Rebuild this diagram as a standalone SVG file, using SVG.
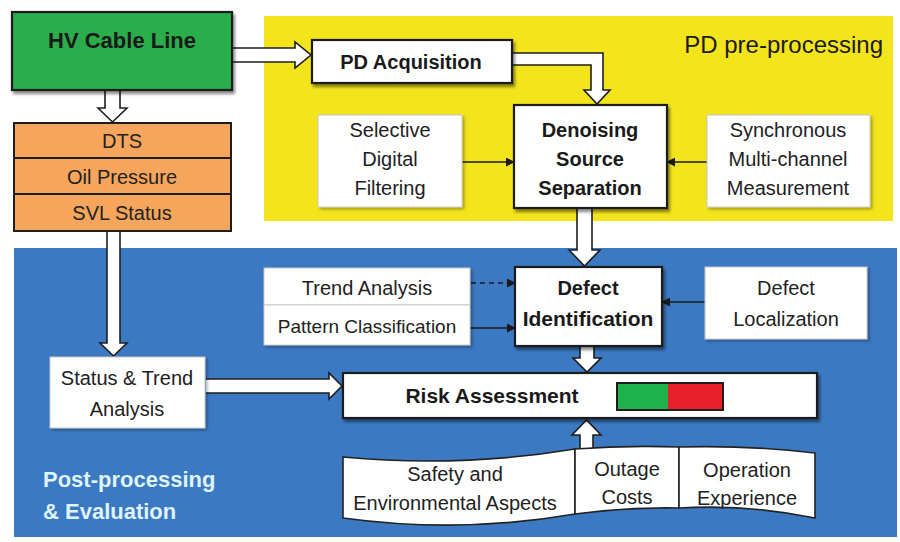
<svg xmlns="http://www.w3.org/2000/svg" width="900" height="542" viewBox="0 0 900 542">
  <defs>
    <filter id="shadow" x="-10%" y="-10%" width="130%" height="140%">
      <feDropShadow dx="2" dy="3" stdDeviation="1.5" flood-color="#000" flood-opacity="0.45"/>
    </filter>
    <filter id="softShadow" x="-10%" y="-10%" width="130%" height="140%">
      <feDropShadow dx="2" dy="2" stdDeviation="1.5" flood-color="#000" flood-opacity="0.3"/>
    </filter>
    <marker id="tri" viewBox="0 0 10 10" refX="9" refY="5" markerWidth="9" markerHeight="9" markerUnits="userSpaceOnUse" orient="auto">
      <path d="M0,0 L10,5 L0,10 Z" fill="#1a1a1a"/>
    </marker>
    <style>
      text { font-family: "Liberation Sans", Arial, sans-serif; fill: #222; text-anchor: middle; }
      .b { font-weight: bold; fill: #1a1a1a; }
      .n { font-size: 20px; }
      .bold20 { font-size: 20px; font-weight: bold; fill: #1a1a1a; }
      .box { fill: #fff; stroke: #1e1e1e; stroke-width: 2.2; filter: url(#shadow); }
      .lite { fill: #fff; stroke: #c8c8c8; stroke-width: 1; filter: url(#softShadow); }
      .hollow { fill: #fff; stroke: #1e1e1e; stroke-width: 1.6; stroke-linejoin: miter; }
      .thin { fill: none; stroke: #1a1a1a; stroke-width: 1.6; marker-end: url(#tri); }
      .wave { fill: #fff; stroke: #222; stroke-width: 1.6; }
    </style>
  </defs>

  <!-- background panels -->
  <rect x="0" y="0" width="900" height="542" fill="#fff"/>
  <g id="pd-preprocessing-panel">
    <rect x="264" y="16" width="629" height="205" fill="#f3e41c"/>
    <text x="883" y="53" style="font-size:24px;text-anchor:end;fill:#1a1a1a">PD pre-processing</text>
  </g>
  <g id="post-processing-panel">
    <rect x="14" y="248" width="883" height="289" fill="#3c79c3"/>
    <text x="43" y="487" style="font-size:22px;font-weight:bold;text-anchor:start;fill:#dff4fb">Post-processing</text>
    <text x="43" y="519" style="font-size:22px;font-weight:bold;text-anchor:start;fill:#dff4fb">&amp; Evaluation</text>
  </g>

  <!-- connectors -->
  <g id="connectors">
    <!-- hollow block arrows -->
    <path class="hollow" d="M105,90 V108 H98 L112.5,122 L127,108 H120 V90"/>
    <path class="hollow" d="M233,48 H295 V42 L311,55 L295,68 V62 H233"/>
    <path class="hollow" d="M513,53 H603 V90 H610 L597,104 L584,90 H591 V65 H513"/>
    <path class="hollow" d="M577,209 V250 H569 L584.5,266 L600,250 H592 V209"/>
    <path class="hollow" d="M580,347 V358 H573 L587,372 L601,358 H594 V347"/>
    <path class="hollow" d="M107,232 V343 H100 L113.5,356 L127,343 H120 V232"/>
    <path class="hollow" d="M206,379 H329 V373 L342,386 L329,399 V393 H206"/>
    <path class="hollow" d="M580,449 V435 H572 L586.5,420 L601,435 H593 V449"/>
    <!-- thin arrows -->
    <line class="thin" x1="462" y1="162" x2="514" y2="162"/>
    <line class="thin" x1="707" y1="162" x2="667" y2="162"/>
    <line class="thin" x1="471" y1="283" x2="515" y2="283" stroke-dasharray="5,4"/>
    <line class="thin" x1="470" y1="328" x2="515" y2="328"/>
    <line class="thin" x1="705" y1="302" x2="662" y2="302"/>
  </g>

  <!-- nodes -->
  <g id="hv-cable-line">
    <rect x="12" y="12" width="220" height="78" fill="#2aae4b" stroke="#1e1e1e" stroke-width="2.2" filter="url(#shadow)"/>
    <text x="122" y="48" class="b" style="font-size:22px">HV Cable Line</text>
  </g>

  <g id="sensors">
    <rect x="14" y="123" width="217" height="35" fill="#f6a55c" stroke="#1e1e1e" stroke-width="2"/>
    <rect x="14" y="158" width="217" height="36" fill="#f6a55c" stroke="#1e1e1e" stroke-width="2"/>
    <rect x="14" y="194" width="217" height="37" fill="#f6a55c" stroke="#1e1e1e" stroke-width="2"/>
    <text x="122" y="148" class="n">DTS</text>
    <text x="122" y="184" class="n">Oil Pressure</text>
    <text x="122" y="220" class="n">SVL Status</text>
  </g>

  <g id="pd-acquisition">
    <rect class="box" x="312" y="40" width="200" height="43"/>
    <text x="411" y="69" class="bold20">PD Acquisition</text>
  </g>

  <g id="denoising">
    <rect class="box" x="514" y="105" width="153" height="103"/>
    <text x="590" y="137" class="bold20">Denoising</text>
    <text x="590" y="166" class="bold20">Source</text>
    <text x="590" y="195" class="bold20">Separation</text>
  </g>

  <g id="selective-filtering">
    <rect class="lite" x="318" y="115" width="144" height="92"/>
    <text x="390" y="137" class="n">Selective</text>
    <text x="390" y="166" class="n">Digital</text>
    <text x="390" y="195" class="n">Filtering</text>
  </g>

  <g id="synchronous-measurement">
    <rect class="lite" x="707" y="115" width="163" height="92"/>
    <text x="788" y="137" class="n">Synchronous</text>
    <text x="788" y="166" class="n">Multi-channel</text>
    <text x="788" y="195" class="n">Measurement</text>
  </g>

  <g id="trend-pattern">
    <rect class="lite" x="264" y="268" width="206" height="37"/>
    <rect class="lite" x="264" y="305" width="206" height="40"/>
    <text x="367" y="295" class="n">Trend Analysis</text>
    <text x="367" y="333" style="font-size:19px">Pattern Classification</text>
  </g>

  <g id="defect-identification">
    <rect class="box" x="515" y="267" width="147" height="79"/>
    <text x="588" y="295" class="bold20">Defect</text>
    <text x="588" y="326" class="b" style="font-size:21px">Identification</text>
  </g>

  <g id="defect-localization">
    <rect class="lite" x="705" y="267" width="162" height="72"/>
    <text x="786" y="295" class="n">Defect</text>
    <text x="786" y="326" class="n">Localization</text>
  </g>

  <g id="status-trend">
    <rect class="lite" x="50" y="357" width="155" height="71"/>
    <text x="127" y="385" class="n">Status &amp; Trend</text>
    <text x="127" y="416" class="n">Analysis</text>
  </g>

  <g id="risk-assessment">
    <rect class="box" x="343" y="373" width="474" height="45"/>
    <text x="492" y="403" class="b" style="font-size:21px">Risk Assessment</text>
    <rect x="617" y="383" width="51" height="27" fill="#1fb24a"/>
    <rect x="668" y="383" width="55" height="27" fill="#e8202a"/>
    <rect x="617" y="383" width="106" height="27" fill="none" stroke="#1e1e1e" stroke-width="2"/>
  </g>

  <g id="safety-environment">
    <path class="wave" d="M343,457 Q460,468 575,449 V514 Q460,534 343,518 Z"/>
    <text x="455" y="481" class="n">Safety and</text>
    <text x="455" y="510" class="n">Environmental Aspects</text>
  </g>

  <g id="outage-costs">
    <path class="wave" d="M575,449 Q627,445 679,447 V508 Q627,507 575,514 Z"/>
    <text x="627" y="476" class="n">Outage</text>
    <text x="627" y="504" class="n">Costs</text>
  </g>

  <g id="operation-experience">
    <path class="wave" d="M679,447 Q747,445 815,453 V518 Q747,504 679,508 Z"/>
    <text x="747" y="477" class="n">Operation</text>
    <text x="747" y="505" class="n">Experience</text>
  </g>
</svg>
